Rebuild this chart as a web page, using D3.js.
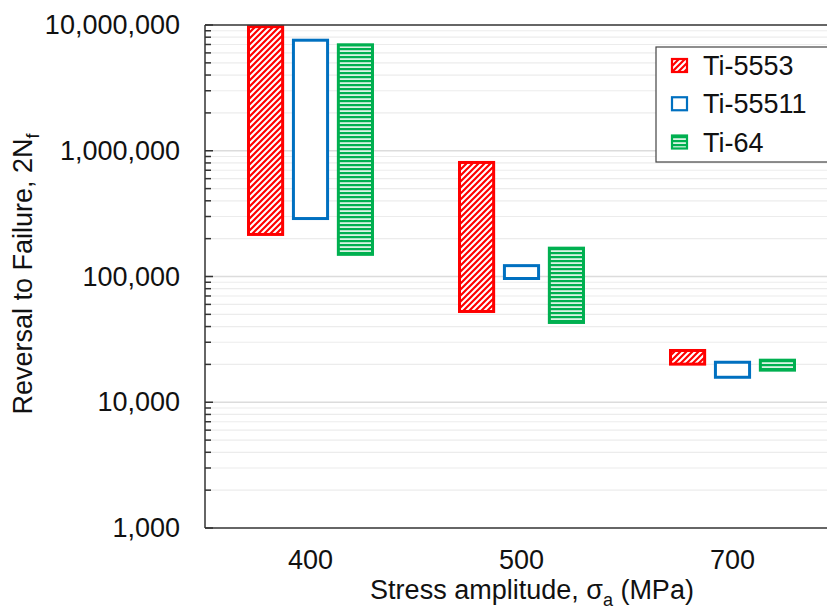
<!DOCTYPE html>
<html><head><meta charset="utf-8">
<script src="https://cdn.jsdelivr.net/npm/d3@7"></script>
<style>body{margin:0;background:#fff}svg{display:block;font-family:"Liberation Sans",Arial,sans-serif}</style>
</head><body><svg id="c" width="827" height="613"></svg>
<script>
const categories = ["400","500","700"];
const series = ["Ti-5553","Ti-55511","Ti-64"];
const lowValues = {
  "Ti-5553":  [216000, 52700, 20100],
  "Ti-55511": [289000, 96400, 15800],
  "Ti-64":    [150000, 43100, 18000]
};
const highValues = {
  "Ti-5553":  [9700000, 807000, 25800],
  "Ti-55511": [7570000, 122000, 20800],
  "Ti-64":    [6960000, 168000, 21600]
};
const yTicks = [1000, 10000, 100000, 1000000, 10000000];
const colors = {"Ti-5553":"#ff0000","Ti-55511":"#0070c0","Ti-64":"#00b050"};
const fills = {"Ti-5553":"url(#hatchRed)","Ti-55511":"#ffffff","Ti-64":"url(#hatchGreen)"};

const svg = d3.select("#c");
const L = 205, R = 838, T = 25, B = 528;
const x = d3.scaleBand().domain(categories).range([L, R]).padding(0);
const xs = d3.scaleBand().domain(series).range([-62, 62]).paddingInner(0.24);
const y = d3.scaleLog().domain([1000, 1e7]).range([B, T]);

const defs = svg.append("defs");
const pr = defs.append("pattern").attr("id","hatchRed").attr("patternUnits","userSpaceOnUse")
  .attr("width",6).attr("height",6);
pr.append("rect").attr("width",6).attr("height",6).attr("fill","#fff");
pr.append("path").attr("d","M-1,7 L7,-1 M-4,4 L4,-4 M2,10 L10,2").attr("stroke","#ff0000").attr("stroke-width",2.2);
const pg = defs.append("pattern").attr("id","hatchGreen").attr("patternUnits","userSpaceOnUse")
  .attr("width",8).attr("height",4);
pg.append("rect").attr("width",8).attr("height",4).attr("fill","#d9f3e3");
pg.append("rect").attr("y",0).attr("width",8).attr("height",2.2).attr("fill","#00b050");

// gridlines
const minor = [];
for (let e = 3; e < 7; e++) for (let m = 2; m <= 9; m++) minor.push(m * Math.pow(10, e));
svg.append("g").selectAll("line").data(minor).join("line")
  .attr("x1", L).attr("x2", 827).attr("y1", d => y(d)).attr("y2", d => y(d))
  .attr("stroke", "#ececec").attr("stroke-width", 1.2);
svg.append("g").selectAll("line").data(yTicks.slice(1,4)).join("line")
  .attr("x1", L).attr("x2", 827).attr("y1", d => y(d)).attr("y2", d => y(d))
  .attr("stroke", "#dcdcdc").attr("stroke-width", 1.5);

// bars
const gBars = svg.append("g");
series.forEach(s => {
  categories.forEach((c, i) => {
    const lo = lowValues[s][i], hi = highValues[s][i];
    gBars.append("rect")
      .attr("x", x(c) + x.bandwidth()/2 + xs(s))
      .attr("width", xs.bandwidth())
      .attr("y", y(hi))
      .attr("height", y(lo) - y(hi))
      .attr("fill", fills[s])
      .attr("stroke", colors[s]).attr("stroke-width", 3);
  });
});

// axes
const yAxis = d3.axisLeft(y).tickValues(yTicks).tickFormat(d3.format(",")).tickSize(0).tickPadding(25);
const ga = svg.append("g").attr("transform", `translate(${L},0)`).call(yAxis);
ga.select(".domain").remove();
ga.selectAll("text").attr("font-size", 27).attr("fill", "#111").attr("font-family", "Liberation Sans, Arial, sans-serif");
// inward minor and major ticks
svg.append("g").selectAll("line").data(minor).join("line")
  .attr("x1", L).attr("x2", L + 6).attr("y1", d => y(d)).attr("y2", d => y(d))
  .attr("stroke", "#333").attr("stroke-width", 1.5);
svg.append("g").selectAll("line").data(yTicks).join("line")
  .attr("x1", L).attr("x2", L + 8).attr("y1", d => y(d)).attr("y2", d => y(d))
  .attr("stroke", "#333").attr("stroke-width", 1.5);

const xAxis = d3.axisBottom(x).tickSize(0).tickPadding(22);
const gx = svg.append("g").attr("transform", `translate(0,${B})`).call(xAxis);
gx.select(".domain").remove();
gx.selectAll("text").attr("font-size", 27).attr("fill", "#111").attr("font-family", "Liberation Sans, Arial, sans-serif");

// frame lines
svg.append("line").attr("x1", L).attr("x2", L).attr("y1", T).attr("y2", B).attr("stroke", "#333").attr("stroke-width", 1.5);
svg.append("line").attr("x1", L).attr("x2", 827).attr("y1", B).attr("y2", B).attr("stroke", "#333").attr("stroke-width", 1.5);
svg.append("line").attr("x1", L).attr("x2", 827).attr("y1", T).attr("y2", T).attr("stroke", "#333").attr("stroke-width", 1.5);

// axis titles
const xt = svg.append("text").attr("x", 532).attr("y", 599).attr("text-anchor", "middle")
  .attr("font-size", 27).attr("fill", "#111");
xt.append("tspan").text("Stress amplitude, σ");
xt.append("tspan").attr("font-size", 18).attr("dy", 7).text("a");
xt.append("tspan").attr("dy", -7).text(" (MPa)");

const yt = svg.append("text").attr("transform", "translate(32,274) rotate(-90)").attr("text-anchor", "middle")
  .attr("font-size", 27).attr("fill", "#111");
yt.append("tspan").text("Reversal to Failure, 2N");
yt.append("tspan").attr("font-size", 18).attr("dy", 7).text("f");

// legend
const lg = svg.append("g");
lg.append("rect").attr("x", 656).attr("y", 47).attr("width", 200).attr("height", 115)
  .attr("fill", "#fff").attr("stroke", "#444").attr("stroke-width", 1.2);
const rowY = d3.scalePoint().domain(series).range([65.5, 142]);
series.forEach(s => {
  lg.append("rect").attr("x", 672).attr("y", rowY(s) - 6.5).attr("width", 15).attr("height", 13)
    .attr("fill", fills[s]).attr("stroke", colors[s]).attr("stroke-width", 2.2);
  lg.append("text").attr("x", 703).attr("y", rowY(s) + 9.5).attr("font-size", 27).attr("fill", "#111").text(s);
});
</script></body></html>
